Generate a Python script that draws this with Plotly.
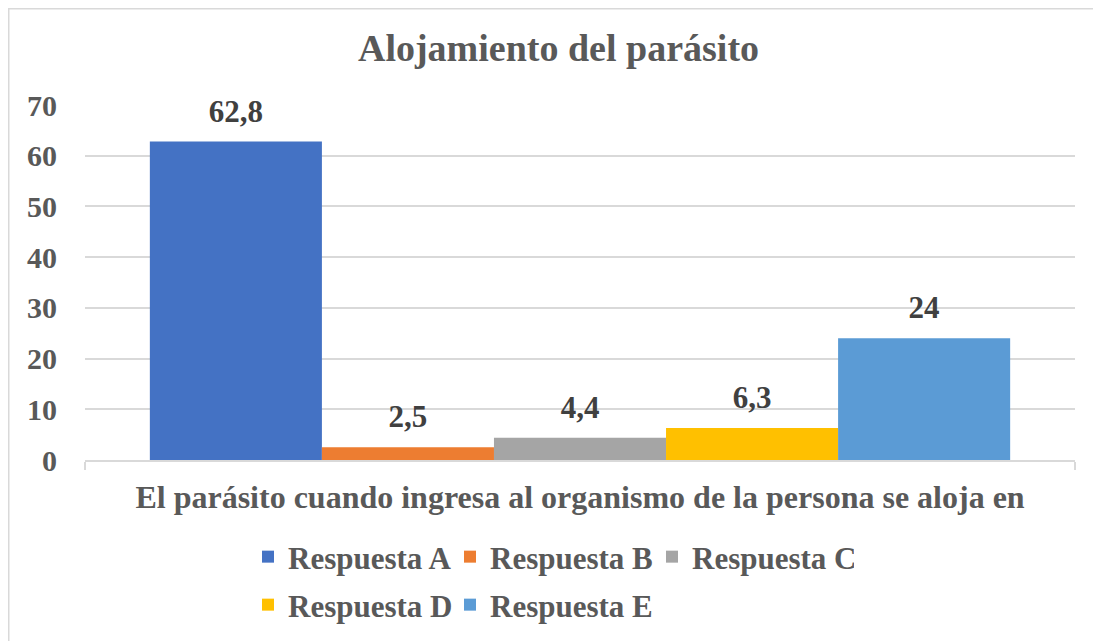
import plotly.graph_objects as go

category = ["El parásito cuando ingresa al organismo de la persona se aloja en"]
series_names = ["Respuesta A", "Respuesta B", "Respuesta C", "Respuesta D", "Respuesta E"]
series_values = [62.8, 2.5, 4.4, 6.3, 24]
series_colors = ["#4472C4", "#ED7D31", "#A5A5A5", "#FFC000", "#5B9BD5"]
y_ticks = [0, 10, 20, 30, 40, 50, 60, 70]

FONT = "Liberation Serif"
W, H = 1101, 641
OFF = 8  # page body margin
ML, MR, MT, MB = 85 - OFF, 34, 105 - OFF, 189
PH = H - MT - MB
PW = W - ML - MR

def py(screen_px):
    return (H - MB - (screen_px - OFF)) / PH

def pxx(screen_px):
    return ((screen_px - OFF) - ML) / PW

fig = go.Figure()
for i, (name, val, col) in enumerate(zip(series_names, series_values, series_colors)):
    fig.add_trace(go.Bar(
        name="<b>" + name + "</b>", x=category, y=[val],
        marker=dict(color=col, line=dict(width=0)),
        legend="legend" if i < 3 else "legend2",
    ))
# data labels: invisible markers aligned with the grouped bars
for i, (name, val) in enumerate(zip(series_names, series_values)):
    label = (f"{val:g}").replace(".", ",")
    fig.add_trace(go.Scatter(
        x=category, y=[val], mode="markers+text", showlegend=False, hoverinfo="skip",
        marker=dict(size=18, color="rgba(0,0,0,0)"),
        text=["<b>" + label + "</b>"], textposition="top center", cliponaxis=False,
        textfont=dict(family=FONT, size=31, color="#404040"),
    ))

leg_common = dict(orientation="h", xanchor="left", yanchor="middle",
                  font=dict(family=FONT, size=31, color="#595959"), traceorder="normal",
                  bgcolor="rgba(0,0,0,0)", entrywidth=157, entrywidthmode="pixels")

fig.update_layout(
    width=W, height=H,
    margin=dict(l=ML, r=MR, t=MT, b=MB, autoexpand=False),
    paper_bgcolor="white", plot_bgcolor="white",
    barmode="group", bargap=0.131, bargroupgap=0,
    scattermode="group", scattergap=0.131,
    font=dict(family=FONT, color="#595959"),
    title=dict(text="<b>Alojamiento del parásito</b>", x=0.5, xanchor="center",
               xref="container", y=1 - (48 - OFF) / H, yanchor="middle",
               font=dict(family=FONT, size=38, color="#595959")),
    showlegend=True,
    legend=dict(x=pxx(248), y=py(557), **leg_common),
    legend2=dict(x=pxx(248), y=py(605), **leg_common),
)
fig.update_yaxes(range=[0, 70], tickvals=y_ticks, ticktext=[f"<b>{v}</b>" for v in y_ticks],
                 showgrid=True, gridcolor="#D9D9D9", gridwidth=1.5,
                 zeroline=False, showline=False, ticks="", ticklabelstandoff=27,
                 tickfont=dict(family=FONT, size=30, color="#595959"))
fig.update_xaxes(tickvals=category, ticktext=["<b>" + category[0] + "</b>"],
                 showline=True, linecolor="#D9D9D9", linewidth=1.5, ticks="outside",
                 tickson="boundaries", ticklen=8, tickcolor="#D9D9D9", tickwidth=1.5,
                 ticklabelstandoff=8,
                 tickfont=dict(family=FONT, size=32, color="#595959"))

fig.add_shape(type="rect", xref="paper", yref="paper",
              x0=(0.75 - ML) / PW, x1=(W - 0.75 - ML) / PW,
              y0=(H - MB - (H - 0.75)) / PH, y1=(H - MB - 0.75) / PH,
              line=dict(color="#D9D9D9", width=1.5), fillcolor="rgba(0,0,0,0)", layer="below")

fig.write_html("out.html")
